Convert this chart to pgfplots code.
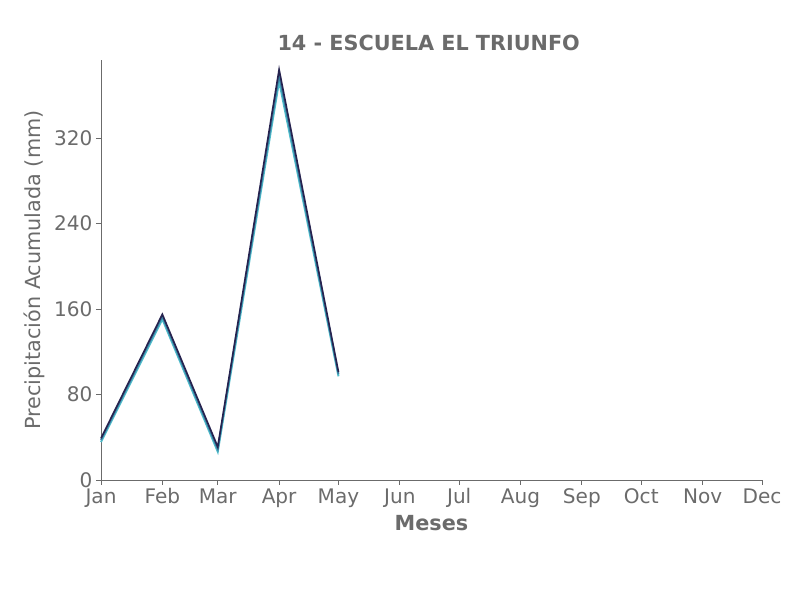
\documentclass[border=0pt]{standalone}
\usepackage{pgfplots}
\pgfplotsset{compat=1.18}
\usepackage{fontspec}
\setmainfont{DejaVu Sans}
\definecolor{txtgray}{HTML}{6B6B6B}
\definecolor{lnA}{HTML}{26234F}
\definecolor{lnB}{HTML}{3B7EA1}
\definecolor{lnC}{HTML}{4DBBCA}
\begin{document}
\begin{tikzpicture}[x=0.72bp,y=0.72bp]
    % page frame, 806 x 600 px, axis origin at (101,480) px
    \path[use as bounding box] (-101,-120) rectangle (705,480);
    \begin{axis}[
            at={(0,0)}, anchor=origin,
            scale only axis,
            width=475.9bp, height=302.4bp,
            xmin=0, xmax=334,
            ymin=0, ymax=393,
            axis x line*=bottom,
            axis y line*=left,
            axis line style={txtgray, line width=0.6pt},
            xtick={0,31,59,90,120,151,181,212,243,273,304,334},
            xticklabels={Jan,Feb,Mar,Apr,May,Jun,Jul,Aug,Sep,Oct,Nov,Dec},
            ytick={0,80,160,240,320},
            tick align=outside,
            major tick length=3.6bp,
            tick style={txtgray, line width=0.6pt},
            ticklabel style={font=\fontsize{14.5}{15}\selectfont, text=txtgray},
            xticklabel style={yshift=1bp, text height=10.5bp, text depth=3bp},
            yticklabel style={xshift=1bp},
            /pgf/number format/assume math mode=true,
            title={\textbf{14 - ESCUELA EL TRIUNFO}},
            title style={font=\fontsize{15}{16}\selectfont, text=txtgray, yshift=-3bp, xshift=-2bp},
            xlabel={\textbf{Meses}},
            ylabel={Precipitación Acumulada (mm)},
            label style={font=\fontsize{15}{16}\selectfont, text=txtgray},
            xlabel style={yshift=1bp},
            clip=false,
        ]
        \addplot[color=lnC, line width=1.4bp] coordinates {
            (0,35.5) (31,150.5) (59,26.5) (90,373) (120,97)
        };
        \addplot[color=lnB, line width=1.3bp] coordinates {
            (0,37.5) (31,153) (59,29) (90,379) (120,99)
        };
        \addplot[color=lnA, line width=1.2bp] coordinates {
            (0,39) (31,155) (59,31) (90,384) (120,101)
        };
    \end{axis}
\end{tikzpicture}
\end{document}
